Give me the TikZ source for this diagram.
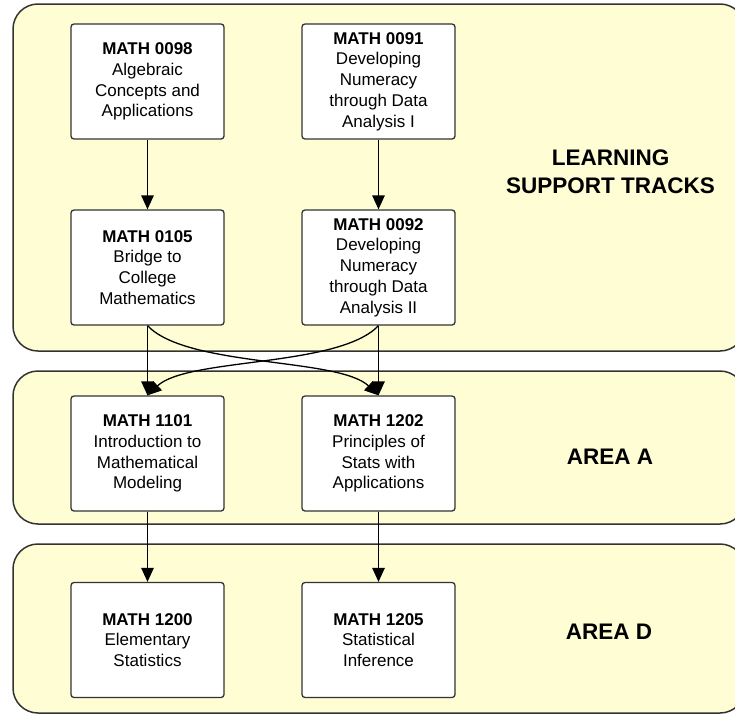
\documentclass[tikz,border=0pt]{standalone}
\usepackage{fontspec}
\setmainfont{Liberation Sans}
\usetikzlibrary{arrows.meta,calc}
\definecolor{panelfill}{HTML}{FEFDD4}
\definecolor{edge}{HTML}{333333}
\begin{document}
\begin{tikzpicture}[x=1pt,y=-1pt,
  panel/.style={draw=edge,fill=panelfill,line width=1.5pt,rounded corners=25pt},
  course/.style={draw=edge,fill=white,line width=1.3pt,rounded corners=3pt,
    minimum width=153pt,minimum height=115pt,inner sep=0pt,align=center,
    font=\fontsize{17}{20.8}\selectfont},
  area/.style={align=center,font=\fontsize{22.5}{28}\selectfont\bfseries},
  link/.style={draw=black,line width=1.3pt,-{Triangle[length=14pt,width=12.5pt]}}]
\useasboundingbox (0,0) rectangle (735,715);
\begin{scope}
\clip (0,0) rectangle (735,715);
\path[panel] (13,4) rectangle (745,351);
\path[panel] (13,371) rectangle (745,524);
\path[panel] (13,544) rectangle (745,713);
\end{scope}

\node[course] (m0098) at (147.5,81.5) {\textbf{MATH 0098}\\Algebraic\\Concepts and\\Applications};
\node[course] (m0091) at (378.5,81.5) {\textbf{MATH 0091}\\Developing\\Numeracy\\through Data\\Analysis I};
\node[course] (m0105) at (147.5,267.5) {\textbf{MATH 0105}\\Bridge to\\College\\Mathematics};
\node[course] (m0092) at (378.5,267.5) {\textbf{MATH 0092}\\Developing\\Numeracy\\through Data\\Analysis II};
\node[course] (m1101) at (147.5,453.5) {\textbf{MATH 1101}\\Introduction to\\Mathematical\\Modeling};
\node[course] (m1202) at (378.5,453.5) {\textbf{MATH 1202}\\Principles of\\Stats with\\Applications};
\node[course] (m1200) at (147.5,640) {\textbf{MATH 1200}\\Elementary\\Statistics};
\node[course] (m1205) at (378.5,640) {\textbf{MATH 1205}\\Statistical\\Inference};

\node[area] (lst) at (610.5,172) {LEARNING\\SUPPORT TRACKS};
\node[area] (ara) at (610,457) {AREA A};
\node[area] (ard) at (609,632) {AREA D};

\draw[link] (m0098) -- (m0105);
\draw[link] (m0091) -- (m0092);
\draw[link] (m0105) -- (m1101);
\draw[link] (m0092) -- (m1202);
\draw[link] (m0105.south) .. controls ($(m0105.south)+(40,42)$) and ($(m1202.north)+(-40,-38)$) .. (m1202.north);
\draw[link] (m0092.south) .. controls ($(m0092.south)+(-40,42)$) and ($(m1101.north)+(40,-38)$) .. (m1101.north);
\draw[link] (m1101) -- (m1200);
\draw[link] (m1202) -- (m1205);
\end{tikzpicture}
\end{document}
